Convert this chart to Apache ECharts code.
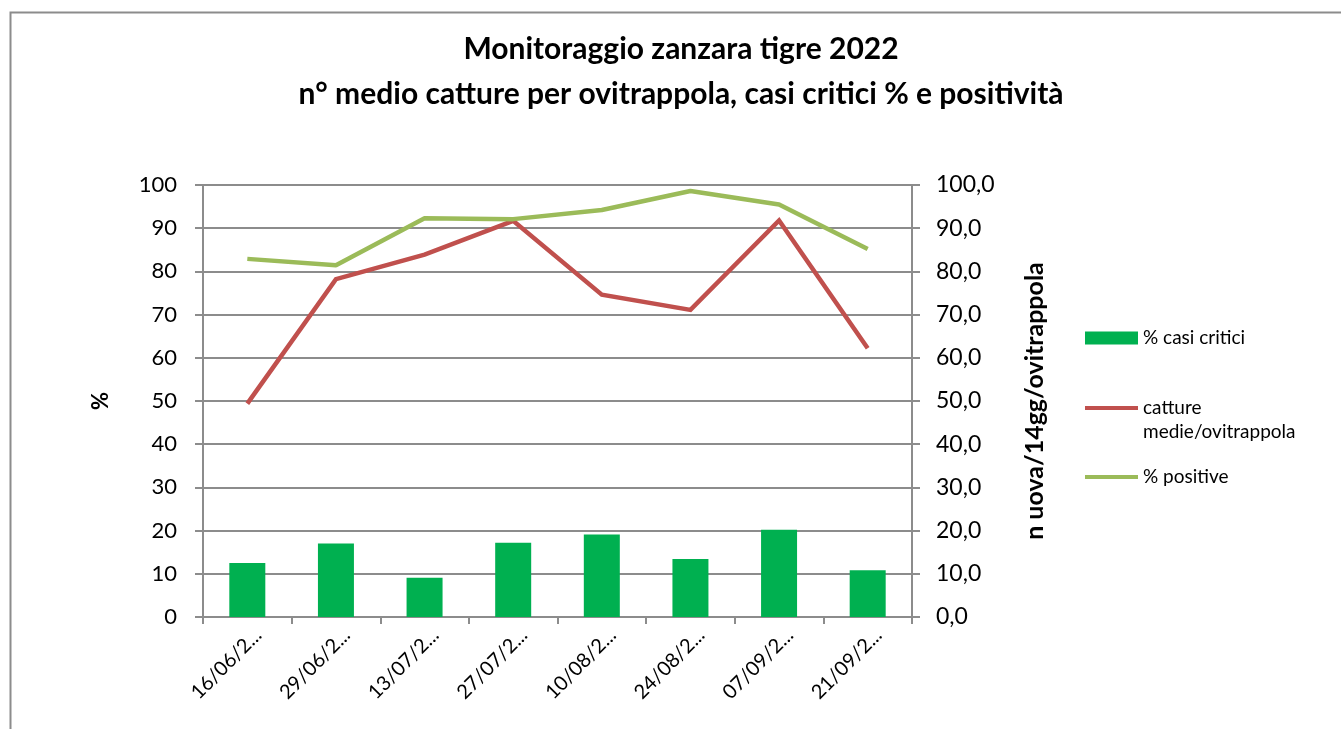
<!DOCTYPE html>
<html>
<head>
<meta charset="utf-8">
<title>Monitoraggio zanzara tigre 2022</title>
<script src="https://cdn.jsdelivr.net/npm/echarts@6/dist/echarts.min.js"></script>
<style>
  html, body { margin: 0; padding: 0; background: #fff; }
  #chart { width: 1341px; height: 729px; }
</style>
</head>
<body>
<div id="chart"></div>
<script>
// Sampling dates (2022)
const categories = ['16/06/2022', '29/06/2022', '13/07/2022', '27/07/2022', '10/08/2022', '24/08/2022', '07/09/2022', '21/09/2022'];
// % of critical cases (left axis)
const casiCritici = [12.5, 17.0, 9.1, 17.2, 19.1, 13.4, 20.2, 10.8];
// mean eggs captured per ovitrap over 14 days (right axis)
const cattureMedie = [49.4, 78.2, 83.9, 91.7, 74.6, 71.1, 91.8, 62.2];
// % of positive ovitraps (left axis)
const positive = [82.9, 81.4, 92.3, 92.1, 94.2, 98.6, 95.5, 85.2];
const leftTicks = { min: 0, max: 100, interval: 10 };
const rightTicks = { min: 0, max: 100, interval: 10 };

const FONT = 'Lato';
const GRID_COLOR = '#8c8c8c';

const chart = echarts.init(document.getElementById('chart'), null, { renderer: 'canvas' });

const legendBase = {
  orient: 'vertical',
  left: 1085,
  padding: 0,
  itemGap: 0,
  textStyle: { fontFamily: FONT, fontSize: 19, color: '#000', lineHeight: 24 },
  icon: 'rect',
  itemWidth: 53,
  selectedMode: false
};

chart.setOption({
  animation: false,
  backgroundColor: '#fff',
  textStyle: { fontFamily: FONT },
  graphic: [
    {
      type: 'rect', silent: true, z: -1,
      shape: { x: 10.5, y: 12.5, width: 1400, height: 800 },
      style: { fill: 'none', stroke: '#8c8c8c', lineWidth: 2 }
    },
    {
      type: 'text', x: 681, y: 27,
      style: {
        text: 'Monitoraggio zanzara tigre 2022\nn° medio catture per ovitrappola, casi critici % e positività',
        fontFamily: FONT, fontSize: 30, fontWeight: 'bold', fill: '#000',
        lineHeight: 45, align: 'center', verticalAlign: 'top'
      }
    }
  ],
  grid: { left: 203, right: 429, top: 185, bottom: 112, containLabel: false },
  legend: [
    Object.assign({}, legendBase, { top: 326, itemHeight: 13, data: ['% casi critici'] }),
    Object.assign({}, legendBase, {
      top: 372, itemHeight: 4, data: ['catture medie/ovitrappola'],
      formatter: () => '\ncatture\nmedie/ovitrappola'
    }),
    Object.assign({}, legendBase, { top: 465, itemHeight: 4, data: ['% positive'] })
  ],
  xAxis: {
    type: 'category',
    data: categories,
    boundaryGap: true,
    axisLine: { lineStyle: { color: GRID_COLOR, width: 2 } },
    axisTick: { show: true, alignWithLabel: false, length: 7, lineStyle: { color: GRID_COLOR, width: 2 } },
    axisLabel: {
      rotate: 45, interval: 0, margin: 4,
      align: 'right', verticalAlign: 'top', lineHeight: 31,
      fontFamily: FONT, fontSize: 20, color: '#000',
      formatter: v => v.slice(0, 7) + '...'
    }
  },
  yAxis: [
    {
      type: 'value', position: 'left',
      min: leftTicks.min, max: leftTicks.max, interval: leftTicks.interval,
      name: '%', nameLocation: 'middle', nameRotate: 90, nameGap: 91,
      nameTextStyle: { fontFamily: FONT, fontSize: 22, fontWeight: 'bold', color: '#000' },
      axisLine: { show: true, lineStyle: { color: GRID_COLOR, width: 2 } },
      axisTick: { show: true, length: 8, lineStyle: { color: GRID_COLOR, width: 2 } },
      axisLabel: { margin: 26, fontFamily: FONT, fontSize: 22, color: '#000' },
      splitLine: { show: true, lineStyle: { color: GRID_COLOR, width: 2 } }
    },
    {
      type: 'value', position: 'right',
      min: rightTicks.min, max: rightTicks.max, interval: rightTicks.interval,
      name: 'n uova/14gg/ovitrappola', nameLocation: 'middle', nameRotate: 90, nameGap: 110,
      nameTextStyle: { fontFamily: FONT, fontSize: 25, fontWeight: 'bold', color: '#000' },
      axisLine: { show: true, lineStyle: { color: GRID_COLOR, width: 2 } },
      axisTick: { show: true, length: 8, lineStyle: { color: GRID_COLOR, width: 2 } },
      axisLabel: {
        margin: 24, fontFamily: FONT, fontSize: 23, color: '#000',
        formatter: v => v.toFixed(1).replace('.', ',')
      },
      splitLine: { show: false }
    }
  ],
  series: [
    {
      name: '% casi critici', type: 'bar', yAxisIndex: 0,
      data: casiCritici, barWidth: 36,
      itemStyle: { color: '#00b050' }
    },
    {
      name: 'catture medie/ovitrappola', type: 'line', yAxisIndex: 1,
      data: cattureMedie, symbol: 'none',
      lineStyle: { color: '#c0504d', width: 4.5, join: 'miter' },
      itemStyle: { color: '#c0504d' }
    },
    {
      name: '% positive', type: 'line', yAxisIndex: 0,
      data: positive, symbol: 'none',
      lineStyle: { color: '#9bbb59', width: 4.5 },
      itemStyle: { color: '#9bbb59' }
    }
  ]
});
</script>
</body>
</html>
